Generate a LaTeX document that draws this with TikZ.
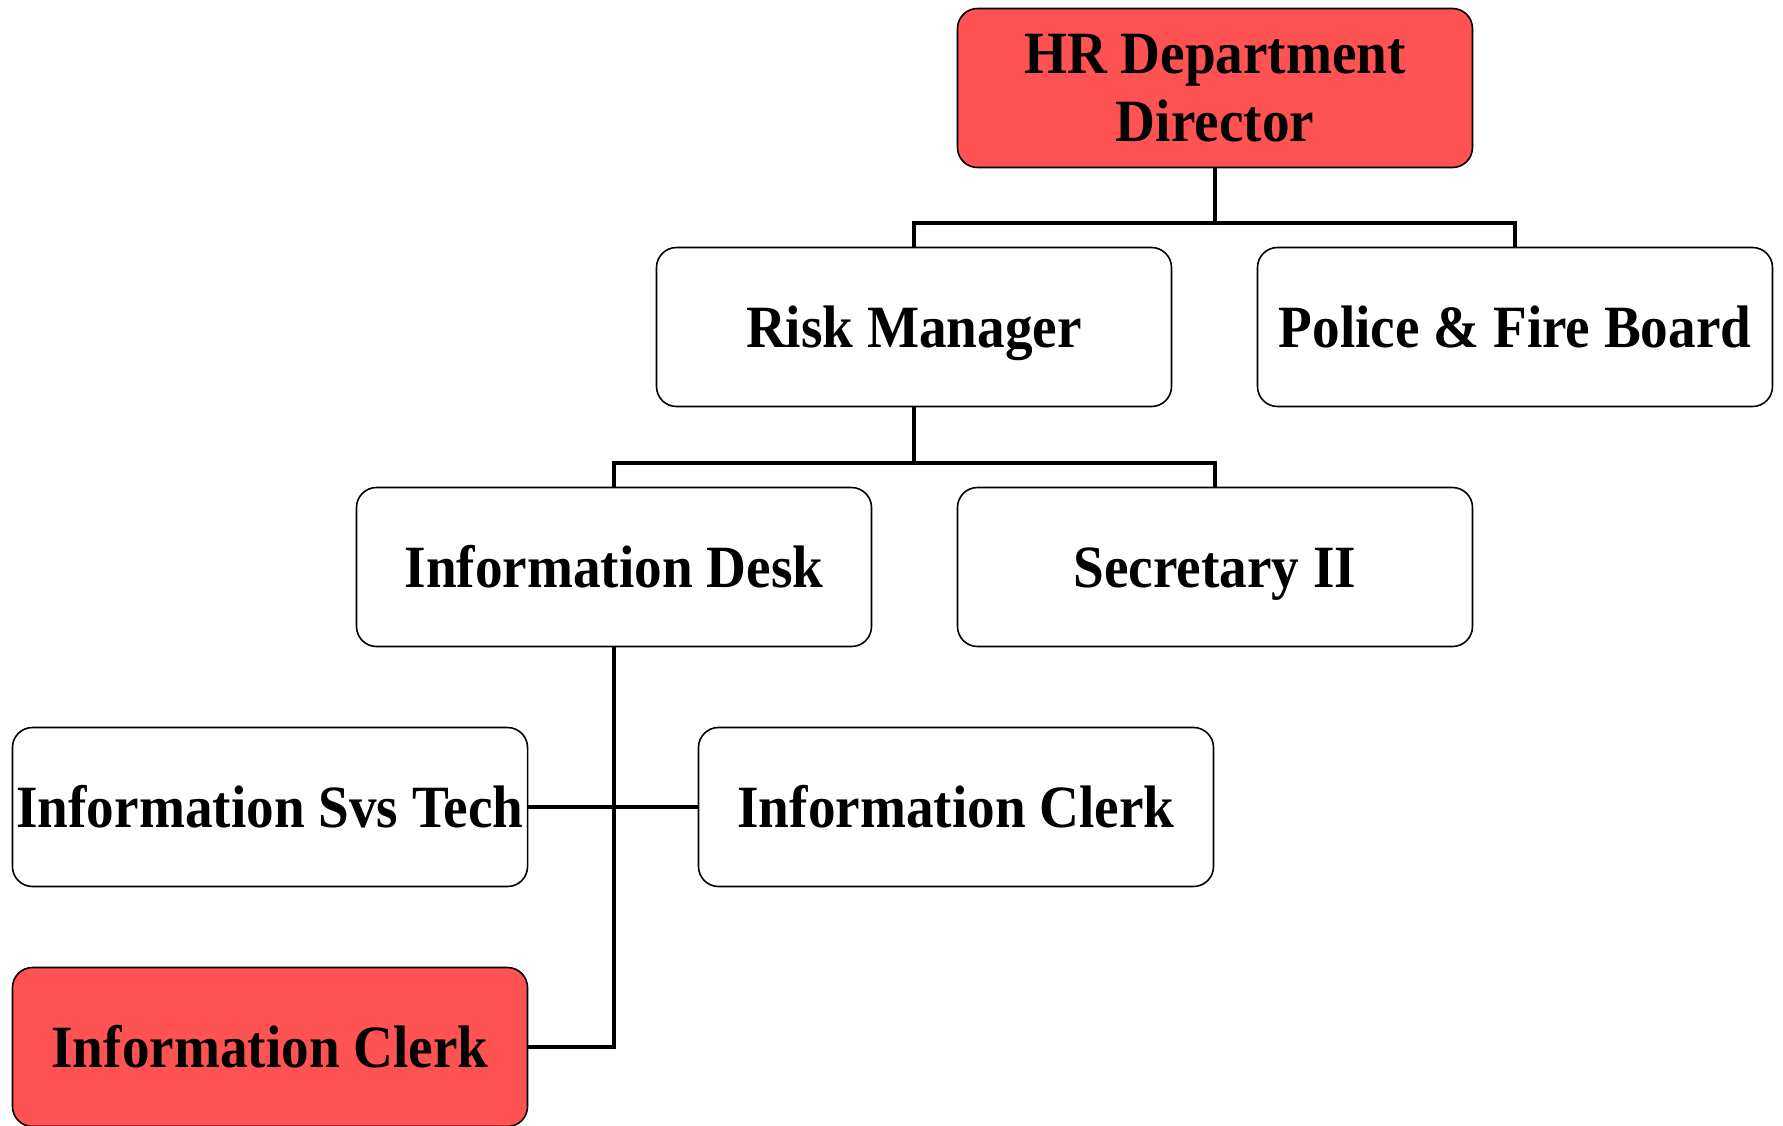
\documentclass[tikz,border=0pt]{standalone}
\usepackage{fontspec}
\setmainfont{Liberation Serif}[FakeStretch=0.92]
\begin{document}
\begin{tikzpicture}[x=0.5pt,y=-0.5pt,
every node/.style={draw,rounded corners=10pt,line width=0.8pt,minimum width=257.5pt,minimum height=79.5pt,align=center,font=\fontsize{30}{34}\selectfont\bfseries,inner sep=2pt},
onebox/.style={text height=24pt,text depth=4pt},
redbox/.style={fill=hrred}]
\definecolor{hrred}{RGB}{255,82,82}
\useasboundingbox (0,0) rectangle (1783,1125);

%%% BOXES %%%
\node [redbox] at (1215,88) (director) {HR Department\\Director};
\node [onebox] at (914,327) (risk) {Risk Manager};
\node [onebox] at (1515,327) (police) {Police \& Fire Board};
\node [onebox] at (614,567) (desk) {Information Desk};
\node [onebox] at (1215,567) (secretary) {Secretary II};
\node [onebox] at (270,807) (svstech) {Information Svs Tech};
\node [onebox] at (956,807) (clerk) {Information Clerk};
\node [onebox,redbox] at (270,1047) (redclerk) {Information Clerk};

%%% LINES %%%
\draw [line width=2.4pt] (director.south) |- (914,223) -- (risk.north);
\draw [line width=2.4pt] (director.south) |- (1515,223) -- (police.north);
\draw [line width=2.4pt] (risk.south) |- (614,463) -- (desk.north);
\draw [line width=2.4pt] (risk.south) |- (1215,463) -- (secretary.north);
\draw [line width=2.4pt] (desk.south) |- (redclerk.east);
\draw [line width=2.4pt] (svstech.east) -- (clerk.west);
\end{tikzpicture}
\end{document}
